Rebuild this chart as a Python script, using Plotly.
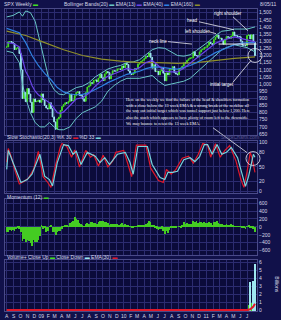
import plotly.graph_objects as go
import pandas as pd

W, H = 281, 320

# ---------------- data ----------------
close = [1260, 1296, 1298, 1292, 1283, 1242, 1252, 1255, 1213, 1099, 899, 940, 877, 968, 930, 873, 800, 896,
         876, 879, 887, 872, 931, 890, 850, 832, 826, 869, 827, 770, 735, 683, 756, 768, 815, 842, 857, 869,
         866, 877, 929, 882, 887, 919, 940, 946, 921, 918, 896, 879, 940, 979, 987, 1010, 1005, 1026, 1029,
         1016, 1042, 1068, 1044, 1025, 1071, 1087, 1080, 1036, 1069, 1093, 1091, 1091, 1106, 1106, 1102,
         1126, 1115, 1145, 1136, 1092, 1074, 1066, 1075, 1109, 1105, 1139, 1150, 1160, 1167, 1179, 1194,
         1192, 1217, 1187, 1111, 1136, 1087, 1089, 1065, 1092, 1117, 1076, 1023, 1078, 1065, 1102, 1102,
         1122, 1079, 1071, 1065, 1104, 1110, 1126, 1149, 1147, 1166, 1176, 1183, 1183, 1226, 1199, 1199,
         1190, 1225, 1240, 1244, 1257, 1258, 1272, 1293, 1284, 1276, 1311, 1329, 1343, 1320, 1321, 1304,
         1279, 1314, 1332, 1328, 1320, 1337, 1364, 1340, 1338, 1333, 1331, 1300, 1271, 1271, 1268, 1340,
         1344, 1316, 1345, 1292, 1199]
open_first = 1257

bb_up_wk = [0, 4, 8, 10, 12, 15, 18, 21, 24, 27, 30, 33, 36, 40, 44, 48, 52, 56, 60, 64, 68, 72, 76, 80, 84,
            88, 92, 96, 100, 104, 108, 112, 116, 120, 124, 128, 132, 136, 140, 144, 148, 152, 157]
bb_up = [1470, 1480, 1505, 1475, 1512, 1500, 1440, 1300, 1150, 1020, 960, 930, 925, 950, 975, 985, 1010, 1050,
         1080, 1105, 1120, 1130, 1150, 1155, 1170, 1205, 1240, 1255, 1250, 1225, 1200, 1195, 1205, 1235, 1265,
         1300, 1340, 1370, 1375, 1385, 1385, 1385, 1400]
bb_lo_wk = bb_up_wk
bb_lo = [1230, 1220, 1150, 1000, 900, 800, 730, 700, 700, 730, 700, 680, 680, 700, 760, 800, 820, 840, 880, 950,
         990, 1020, 1040, 1040, 1040, 1050, 1060, 1020, 990, 1000, 1010, 1020, 1040, 1080, 1120, 1160, 1200,
         1240, 1260, 1275, 1265, 1255, 1225]

ema13_wk = [0, 4, 8, 10, 12, 14, 16, 18, 20, 22, 24, 26, 28, 30, 32, 34, 36, 40, 44, 48, 52, 56, 60, 64, 68, 72,
            76, 80, 84, 88, 92, 96, 100, 104, 108, 112, 116, 120, 124, 128, 132, 136, 140, 144, 148, 152, 157]
ema13 = [1290, 1285, 1260, 1170, 1090, 1050, 990, 950, 925, 910, 895, 875, 860, 830, 800, 795, 805, 850, 895,
         905, 935, 985, 1025, 1055, 1070, 1090, 1110, 1100, 1115, 1150, 1165, 1130, 1090, 1085, 1085, 1110,
         1145, 1180, 1210, 1245, 1285, 1305, 1315, 1330, 1320, 1310, 1295]

ema40_wk = [0, 8, 12, 16, 20, 24, 28, 32, 36, 40, 44, 48, 52, 56, 60, 64, 68, 72, 76, 80, 84, 88, 92, 96, 100,
            104, 108, 112, 116, 120, 124, 128, 132, 136, 140, 144, 148, 152, 157]
ema40 = [1390, 1360, 1290, 1200, 1130, 1075, 1030, 975, 945, 930, 925, 928, 940, 960, 985, 1010, 1030, 1050,
         1068, 1078, 1090, 1108, 1118, 1120, 1112, 1108, 1105, 1115, 1130, 1150, 1170, 1195, 1220, 1240, 1260,
         1275, 1285, 1290, 1290]

ema160_wk = [0, 12, 24, 36, 48, 60, 72, 84, 96, 108, 120, 132, 144, 157]
ema160 = [1370, 1340, 1290, 1240, 1200, 1175, 1160, 1150, 1150, 1145, 1150, 1165, 1180, 1190]

stoch_d_wk = [0, 1, 5, 9, 13, 16, 21, 24, 27, 29, 32, 36, 39, 42, 44, 47, 51, 56, 59, 62, 65, 70, 75, 78, 80,
              83, 89, 92, 97, 100, 102, 105, 108, 112, 116, 119, 122, 125, 127, 130, 133, 136, 139, 142, 146,
              149, 151, 153, 156, 157]
stoch_d = [45, 84, 51, 18, 24, 35, 76, 31, 24, 11, 59, 96, 94, 76, 82, 55, 80, 72, 59, 69, 55, 76, 80, 59, 35,
           92, 92, 55, 28, 24, 39, 39, 41, 65, 69, 61, 71, 96, 96, 76, 96, 76, 80, 90, 69, 31, 10, 31, 76, 70]
stoch_k_wk = [0, 1, 3, 5, 8, 11, 14, 17, 20, 23, 26, 28, 31, 34, 35, 38, 41, 43, 46, 50, 53, 55, 58, 61, 64, 67,
              69, 74, 77, 79, 82, 88, 91, 96, 99, 101, 104, 107, 111, 115, 118, 121, 124, 127, 129, 132, 135,
              138, 141, 145, 148, 150, 152, 154, 155, 157]
stoch_k = [60, 88, 70, 45, 15, 20, 28, 45, 82, 30, 18, 8, 55, 92, 98, 92, 70, 85, 50, 84, 70, 75, 52, 74, 50,
           62, 80, 84, 52, 30, 95, 95, 48, 22, 18, 45, 35, 45, 68, 72, 58, 75, 98, 95, 70, 98, 70, 84, 94, 62,
           25, 8, 40, 80, 70, 39]

momentum = [-129, -130, -77, -108, -78, -118, -66, -23, -49, -141, -362, -317, -383, -328, -368, -419, -483,
            -346, -376, -376, -326, -227, 32, -50, -27, -136, -104, -4, 27, -126, -141, -196, -131, -104, -116,
            -48, 7, 37, 40, 8, 102, 112, 152, 236, 184, 178, 106, 76, 39, 10, 74, 102, 58, 128, 118, 107, 89, 70,
            121, 150, 148, 146, 131, 108, 93, 26, 64, 67, 62, 75, 64, 38, 58, 101, 44, 58, 56, 56, 5, -27, -16,
            18, -1, 33, 48, 34, 52, 34, 58, 100, 143, 121, 36, 27, -18, -50, -85, -68, -50, -103, -171, -114,
            -152, -85, -9, -14, -8, -18, 0, 12, -7, 50, 126, 69, 101, 74, 81, 61, 147, 128, 134, 86, 115, 114,
            95, 110, 92, 96, 110, 101, 50, 112, 130, 153, 95, 81, 60, 22, 56, 60, 35, 36, 61, 53, 11, -5, 13, 10,
            -4, -8, -43, -64, 12, 24, -21, -19, -48, -139]

vol_wk = [153, 154, 155, 156, 157]
vol_bil = [0.7, 3.6, 1.0, 3.8, 5.9]
vol_up = [True, False, True, False, False]
vol_ema_wk = [0, 152, 154, 155, 156, 157]
vol_ema = [0.0, 0.0, 0.1, 0.3, 0.45, 0.8]

neckline_level = 1280
month_labels = ["A", "S", "O", "N", "D", "09", "F", "M", "A", "M", "J", "J", "A", "S", "O", "N", "D", "10",
                "F", "M", "A", "M", "J", "J", "A", "S", "O", "N", "D", "11", "F", "M", "A", "M", "J", "J"]

# ---------------- helpers ----------------
dates = pd.date_range("2008-08-01", periods=len(close), freq="W-FRI")
def wd(idx):
    return [dates[i] for i in idx]
month_ticks = pd.date_range("2008-08-01", periods=len(month_labels), freq="MS")

def X(px): return px / W
def Y(py): return 1 - py / H

BG = "#11114a"
PLOT = "#0b0b3a"
GRID = "#2c2c70"
TXT = "#d8d8e8"
FONT = "Liberation Sans"

opens = [open_first] + close[:-1]
highs = [max(o, c) for o, c in zip(opens, close)]
lows = [min(o, c) for o, c in zip(opens, close)]

fig = go.Figure()
# main panel
fig.add_trace(go.Scatter(x=wd(bb_up_wk), y=bb_up, mode="lines", line=dict(color="#69c6c6", width=1), xaxis="x", yaxis="y"))
fig.add_trace(go.Scatter(x=wd(bb_lo_wk), y=bb_lo, mode="lines", line=dict(color="#69c6c6", width=1), xaxis="x", yaxis="y"))
fig.add_trace(go.Scatter(x=wd(ema160_wk), y=ema160, mode="lines", line=dict(color="#8f8f2a", width=1.2), xaxis="x", yaxis="y"))
fig.add_trace(go.Scatter(x=wd(ema40_wk), y=ema40, mode="lines", line=dict(color="#2f80e0", width=1.2), xaxis="x", yaxis="y"))
fig.add_trace(go.Scatter(x=wd(ema13_wk), y=ema13, mode="lines", line=dict(color="#6a44e8", width=1.2), xaxis="x", yaxis="y"))
fig.add_trace(go.Candlestick(x=dates, open=opens, high=highs, low=lows, close=close,
                             increasing=dict(line=dict(color="#44dd22", width=1), fillcolor="#44dd22"),
                             decreasing=dict(line=dict(color="#9ee6f0", width=1), fillcolor="#9ee6f0"),
                             whiskerwidth=0, xaxis="x", yaxis="y"))
# stochastic
fig.add_trace(go.Scatter(x=wd(stoch_k_wk), y=stoch_k, mode="lines", line=dict(color="#e0182a", width=1.2), xaxis="x2", yaxis="y2"))
fig.add_trace(go.Scatter(x=wd(stoch_d_wk), y=stoch_d, mode="lines", line=dict(color="#78d4dc", width=1.2), xaxis="x2", yaxis="y2"))
# momentum
fig.add_trace(go.Bar(x=dates, y=momentum, marker=dict(color="#44cc22", line=dict(width=0)), width=3.5 * 86400000,
                     xaxis="x3", yaxis="y3"))
# volume
fig.add_trace(go.Bar(x=wd(vol_wk), y=vol_bil, marker=dict(color=["#44dd22" if u else "#9ee6f0" for u in vol_up], line=dict(width=0)),
                     width=5 * 86400000, xaxis="x4", yaxis="y4"))
fig.add_trace(go.Scatter(x=wd(vol_ema_wk), y=vol_ema, mode="lines", line=dict(color="#e0182a", width=2), xaxis="x4", yaxis="y4"))

xr = [pd.Timestamp("2008-07-24 12:00"), pd.Timestamp("2011-08-14")]
xcommon = dict(type="date", range=xr, domain=[X(5), X(257)], tickvals=list(month_ticks), ticktext=month_labels,
               showgrid=True, gridcolor=GRID, gridwidth=1, zeroline=False, showline=True, linecolor="#4a4a88",
               mirror=True, ticks="", tickfont=dict(size=5, color=TXT, family=FONT), fixedrange=True)
ycommon = dict(side="right", showgrid=True, gridcolor=GRID, gridwidth=1, zeroline=False, showline=True,
               linecolor="#4a4a88", mirror=True, ticks="", tickfont=dict(size=5, color=TXT, family=FONT))

layout = dict(
    width=W, height=H, margin=dict(l=0, r=0, t=0, b=0), paper_bgcolor=BG, plot_bgcolor=PLOT, showlegend=False,
    bargap=0,
    xaxis=dict(**xcommon, anchor="y", showticklabels=False, rangeslider=dict(visible=False)),
    yaxis=dict(**ycommon, anchor="x", domain=[Y(135), Y(8)], range=[645, 1526],
               tickvals=list(range(650, 1501, 50)), tickformat=","),
    xaxis2=dict(**xcommon, anchor="y2", showticklabels=False),
    yaxis2=dict(**ycommon, anchor="x2", domain=[Y(194), Y(141)], range=[-4, 104], tickvals=[0, 20, 50, 80, 100]),
    xaxis3=dict(**xcommon, anchor="y3", showticklabels=False),
    yaxis3=dict(**ycommon, anchor="x3", domain=[Y(256), Y(200)], range=[-700, 700],
                tickvals=[-600, -400, -200, 0, 200, 400, 600]),
    xaxis4=dict(**xcommon, anchor="y4", showticklabels=True),
    yaxis4=dict(**ycommon, anchor="x4", domain=[Y(313), Y(261)], range=[-0.125, 6.4], tickvals=[0, 1, 2, 3, 4, 5, 6]),
)
fig.update_layout(**layout)

def note(px, py, text, size=5, anchor="left", color=TXT, family=FONT, angle=0):
    fig.add_annotation(x=X(px), y=Y(py), xref="paper", yref="paper", text=text, showarrow=False,
                       xanchor=anchor, yanchor="middle", textangle=angle,
                       font=dict(size=size, color=color, family=family))

def sw(c):
    return f"<span style='color:{c}'>▬</span>"

note(2, 3.5, "SPX Weekly " + sw("#44dd22"))
note(62, 3.5, "Bollinger Bands(20) " + sw("#69c6c6") + " EMA(13) " + sw("#6a44e8") + " EMA(40) " + sw("#2f80e0")
     + " EMA(160) " + sw("#8f8f2a"))
note(279, 3.5, "8/05/11", anchor="right")
note(5, 137.5, "Slow Stochastic(20,3) %K 30 " + sw("#e0182a") + " %D 33 " + sw("#78d4dc"))
note(5, 197.5, "Momentum (12) " + sw("#44cc22"))
note(5, 258, "Volume+ Close Up " + sw("#44dd22") + " Close Down " + sw("#9ee6f0") + " EMA(30) " + sw("#e0182a"))
note(277, 286, "Billions", angle=90, anchor="center")
note(240, 137.5, "StockCharts.com", color="#55558a", anchor="center")

# chart commentary
note(228, 13, "right shoulder", size=4.5, anchor="center", color="white")
note(192, 20, "head", size=4.5, anchor="center", color="white")
note(197, 31, "left shoulder", size=4.5, anchor="center", color="white")
note(158, 41, "neck line", size=4.5, anchor="center", color="white")
note(222, 84, "initial target", size=4.5, anchor="center", color="white")
para = ["Here on the weekly we find the failure of the head &amp; shoulders formation",
        "with a close below the 13 week EMA &amp; a strong break of the neckline all",
        "the way out initial target which was tunnel support just below 1,200. Here",
        "also the stoch which appears to have plenty of room left to the downside.",
        "We may bounce to retest the 13 week EMA."]
for i, line in enumerate(para):
    note(124, 99 + i * 6.2, line, size=4.2, color="white", family="Liberation Serif")

def seg(x0, y0, x1, y1):
    fig.add_shape(type="line", xref="paper", yref="paper", x0=X(x0), y0=Y(y0), x1=X(x1), y1=Y(y1),
                  line=dict(color="#e8e8f0", width=0.8))

seg(233, 16, 248, 30)
seg(199, 21, 234, 29)
seg(209, 31, 216, 33)
seg(168, 41, 192, 43.5)
seg(233, 82, 251, 60)
seg(213, 128, 247, 153)
fig.add_shape(type="line", xref="x", yref="y", x0=pd.Timestamp("2011-02-25"), x1=pd.Timestamp("2011-08-12"),
              y0=neckline_level, y1=neckline_level, line=dict(color="#f0f0f0", width=1))
fig.add_shape(type="circle", xref="paper", yref="paper", x0=X(248), x1=X(262), y0=Y(48), y1=Y(62),
              line=dict(color="#e8e8f0", width=0.8))
fig.add_shape(type="circle", xref="paper", yref="paper", x0=X(246), x1=X(260), y0=Y(152), y1=Y(166),
              line=dict(color="#e8e8f0", width=0.8))

fig.write_html("out.html", config=dict(displayModeBar=False))
